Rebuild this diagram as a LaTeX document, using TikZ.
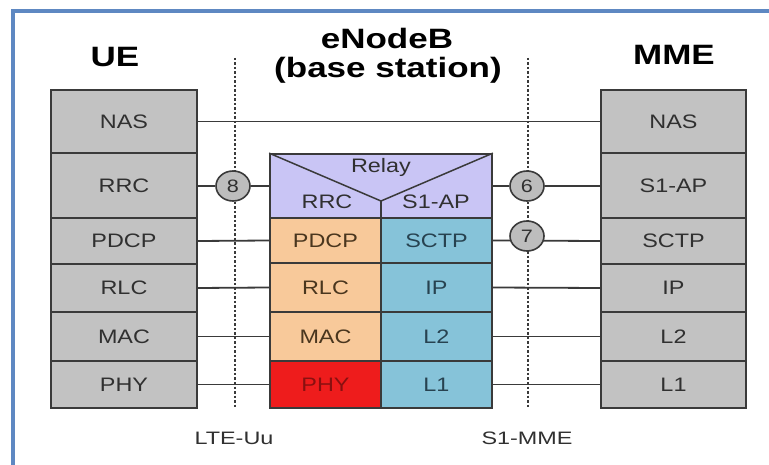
\documentclass[tikz,border=0pt]{standalone}
\usepackage{fontspec}
\usetikzlibrary{shapes.geometric,backgrounds}
\newfontfamily\boxfont[FakeStretch=1.2]{Liberation Sans}
\newfontfamily\titlefont[FakeStretch=1.25]{Liberation Sans}
\newfontfamily\lblfont[FakeStretch=1.3]{Liberation Sans}
\definecolor{stackgray}{HTML}{C2C2C2}
\definecolor{boxline}{HTML}{3A3A3A}
\definecolor{relayfill}{HTML}{C9C5F5}
\definecolor{orangefill}{HTML}{F8C99A}
\definecolor{bluefill}{HTML}{86C3D9}
\definecolor{redfill}{HTML}{EE1C1C}
\definecolor{circfill}{HTML}{BDBDBD}
\definecolor{frameblue}{HTML}{5E88C2}
\definecolor{labtext}{HTML}{303030}
\definecolor{bluetext}{HTML}{274250}
\definecolor{orangetext}{HTML}{4A361E}
\definecolor{redtext}{HTML}{8A1010}
\definecolor{connline}{HTML}{3A3A3A}
\definecolor{dotcol}{HTML}{3A3A3A}
\begin{document}
\begin{tikzpicture}[x=1pt,y=-1pt,
  layer/.style={draw=boxline, line width=1.7pt, inner sep=0pt, text=labtext,
    font=\boxfont\fontsize{19.5}{22}\selectfont},
  uestack/.style={layer, fill=stackgray, minimum width=146pt},
  enbleft/.style={layer, fill=orangefill, text=orangetext, minimum width=111pt},
  enbright/.style={layer, fill=bluefill, text=bluetext, minimum width=111pt},
  cell/.style={inner sep=0pt, font=\boxfont\fontsize{19.5}{22}\selectfont},
  title/.style={inner sep=0pt, text=black, font=\titlefont\bfseries\fontsize{28}{32}\selectfont},
  lbl/.style={inner sep=0pt, text=labtext, font=\lblfont\fontsize{18}{20}\selectfont},
  numcirc/.style={ellipse, draw=boxline, line width=1.6pt, fill=circfill, inner sep=0pt,
    minimum width=34pt, minimum height=30pt, text=labtext,
    font=\boxfont\fontsize{18}{20}\selectfont},
  conn/.style={draw=connline, line width=1.8pt},
  dotline/.style={draw=dotcol, line width=1.4pt, dash pattern=on 2.5pt off 2pt}]
\useasboundingbox (0,0) rectangle (769,465);

% frame
\draw[frameblue, line width=3.5pt] (13,465) -- (13,11) -- (769,11);

% titles
\node[title] (t-ue) at (115,57) {UE};
\node[title] (t-enb) at (387,38) {eNodeB};
\node[title] (t-bs) at (388,70) {(base station)};
\node[title] (t-mme) at (674,55) {MME};

% UE protocol stack
\node[uestack, minimum height=63pt] (ue-nas)  at (124,121.5) {NAS};
\node[uestack, minimum height=65pt] (ue-rrc)  at (124,185.5) {RRC};
\node[uestack, minimum height=46pt] (ue-pdcp) at (124,241) {PDCP};
\node[uestack, minimum height=48pt] (ue-rlc)  at (124,288) {RLC};
\node[uestack, minimum height=49pt] (ue-mac)  at (124,336.5) {MAC};
\node[uestack, minimum height=47pt] (ue-phy)  at (124,384.5) {PHY};

% MME protocol stack
\node[uestack, minimum width=145pt, minimum height=63pt] (mme-nas)  at (673.5,121.5) {NAS};
\node[uestack, minimum width=145pt, minimum height=65pt] (mme-s1ap) at (673.5,185.5) {S1-AP};
\node[uestack, minimum width=145pt, minimum height=46pt] (mme-sctp) at (673.5,241) {SCTP};
\node[uestack, minimum width=145pt, minimum height=48pt] (mme-ip)   at (673.5,288) {IP};
\node[uestack, minimum width=145pt, minimum height=49pt] (mme-l2)   at (673.5,336.5) {L2};
\node[uestack, minimum width=145pt, minimum height=47pt] (mme-l1)   at (673.5,384.5) {L1};

% eNodeB relay block
\node[layer, fill=relayfill, minimum width=222pt, minimum height=64pt] (relay) at (381,186) {};
\coordinate (vtx) at (381,201);
\draw[draw=boxline, line width=1.5pt] (relay.north west) -- (vtx) -- (relay.north east);
\draw[draw=boxline, line width=1.5pt] (vtx) -- (relay.south);
\node[cell, text=labtext] (relay-lbl) at (381,167) {Relay};
\node[cell, text=labtext] (enb-rrc) at (327,202) {RRC};
\node[cell, text=labtext] (enb-s1ap) at (436,202) {S1-AP};

% eNodeB lower layers
\node[enbleft, minimum height=45pt] (enb-pdcp) at (325.5,240.5) {PDCP};
\node[enbleft, minimum height=49pt] (enb-rlc)  at (325.5,287.5) {RLC};
\node[enbleft, minimum height=49pt] (enb-mac)  at (325.5,336.5) {MAC};
\node[enbleft, fill=redfill, text=redtext, minimum height=47pt] (enb-phy) at (325.5,384.5) {PHY};
\node[enbright, minimum height=45pt] (enb-sctp) at (436.5,240.5) {SCTP};
\node[enbright, minimum height=49pt] (enb-ip)   at (436.5,287.5) {IP};
\node[enbright, minimum height=49pt] (enb-l2)   at (436.5,336.5) {L2};
\node[enbright, minimum height=47pt] (enb-l1)   at (436.5,384.5) {L1};

% reference point circles
\node[numcirc] (c8) at (233,186) {8};
\node[numcirc] (c6) at (527,186) {6};
\node[numcirc] (c7) at (527,236) {7};

% interface labels
\node[lbl] (lte) at (234,438) {LTE-Uu};
\node[lbl] (s1mme) at (527,438) {S1-MME};

\coordinate (uu-top) at (235,58);
\coordinate (uu-bot) at (235,408);
\coordinate (s1-top) at (528,58);
\coordinate (s1-bot) at (528,408);

\begin{pgfonlayer}{background}
  \fill[white] (0,0) rectangle (769,465);
  \draw[dotline] (uu-top) -- (uu-bot);
  \draw[dotline] (s1-top) -- (s1-bot);
  \draw[conn] (ue-nas.east) -- (mme-nas.west);
  \draw[conn] (c8.west -| ue-rrc.east) -- (c8.west);
  \draw[conn] (c8.east) -- (relay.west);
  \draw[conn] (relay.east) -- (c6.west);
  \draw[conn] (c6.east) -- (c6.east -| mme-s1ap.west);
  \draw[conn] (ue-pdcp.east) -- (enb-pdcp.west);
  \draw[conn] (enb-sctp.east) -- (mme-sctp.west);
  \draw[conn] (ue-rlc.east) -- (enb-rlc.west);
  \draw[conn] (enb-ip.east) -- (mme-ip.west);
  \draw[conn] (ue-mac.east) -- (enb-mac.west);
  \draw[conn] (enb-l2.east) -- (mme-l2.west);
  \draw[conn] (ue-phy.east) -- (enb-phy.west);
  \draw[conn] (enb-l1.east) -- (mme-l1.west);
\end{pgfonlayer}
\end{tikzpicture}
\end{document}
